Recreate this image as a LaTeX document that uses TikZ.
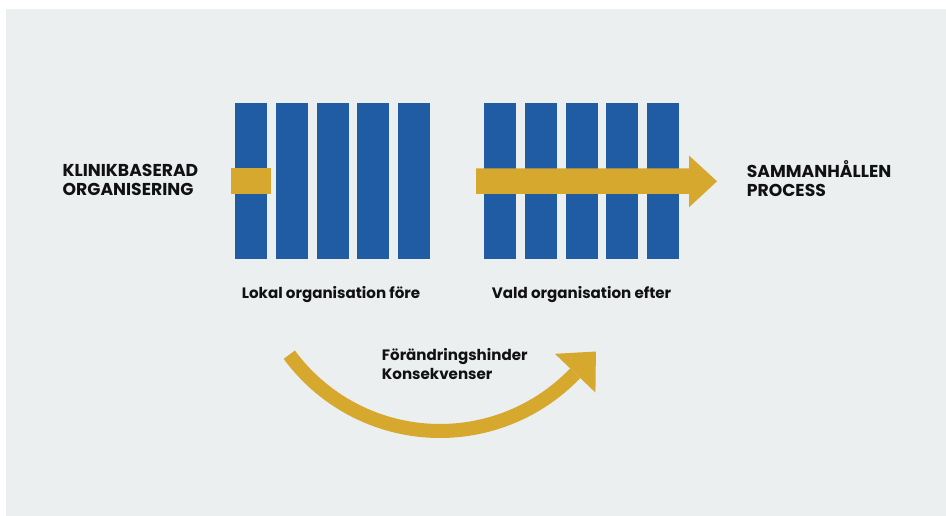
\documentclass[tikz,border=0pt]{standalone}
\usepackage{fontspec}
\setmainfont{Poppins}
\usetikzlibrary{calc}
\definecolor{panel}{HTML}{EBEFF0}
\definecolor{barblue}{HTML}{1F5CA3}
\definecolor{gold}{HTML}{D6A82E}
\definecolor{ink}{HTML}{111111}
\begin{document}
\begin{tikzpicture}[x=1pt,y=-1pt,
  bar/.style={rectangle,draw=none,fill=barblue,inner sep=0pt,
    minimum width=32pt,minimum height=156pt,anchor=north west},
  label/.style={inner sep=0pt,anchor=base west,text=ink,align=left,
    font=\bfseries\fontsize{15.1}{19}\selectfont},
  caps/.style={label,font=\bfseries\fontsize{17.2}{19}\selectfont},
  band/.style={draw=gold,line width=14pt}]
  \useasboundingbox (0,0) rectangle (946,516);
  % panel
  \fill[panel] (6,9) rectangle (946,516);
  % two rows of bars
  \foreach \i in {1,...,5}{
    \node[bar] (L\i) at ({235+40.75*(\i-1)},103) {};
    \node[bar] (R\i) at ({484+40.75*(\i-1)},103) {};
  }
  % short gold block on the first bar
  \fill[gold] (231,168.5) rectangle (271,194);
  % straight arrow through the right bars
  \fill[gold] (476,168.5) -- (689,168.5) -- (689,155.5) -- (717,181.3)
    -- (689,207.3) -- (689,194) -- (476,194) -- cycle;
  % curved arrow below
  \coordinate (ctr) at (440,244);
  \draw[band] plot[domain=143.7:43.7,samples=80]
    ({440+187*cos(\x)},{244+187*sin(\x)});
  \fill[gold] ($(ctr)+(43.7:159)$) -- ($(ctr)+(43.7:187)+(-46.3:30)$)
    -- ($(ctr)+(43.7:215)$) -- cycle;
  % labels (base anchor sits on the last line)
  \node[caps] (klin) at (62.5,195.7) {KLINIKBASERAD\\ORGANISERING};
  \node[caps] (samm) at (746.7,196.7) {SAMMANHÅLLEN\\PROCESS};
  \node[label] (fore) at (241.7,298.3) {Lokal organisation före};
  \node[label] (efter) at (491.7,298.3) {Vald organisation efter};
  \node[label] (hind) at (381.7,379.3) {Förändringshinder\\Konsekvenser};
\end{tikzpicture}
\end{document}
